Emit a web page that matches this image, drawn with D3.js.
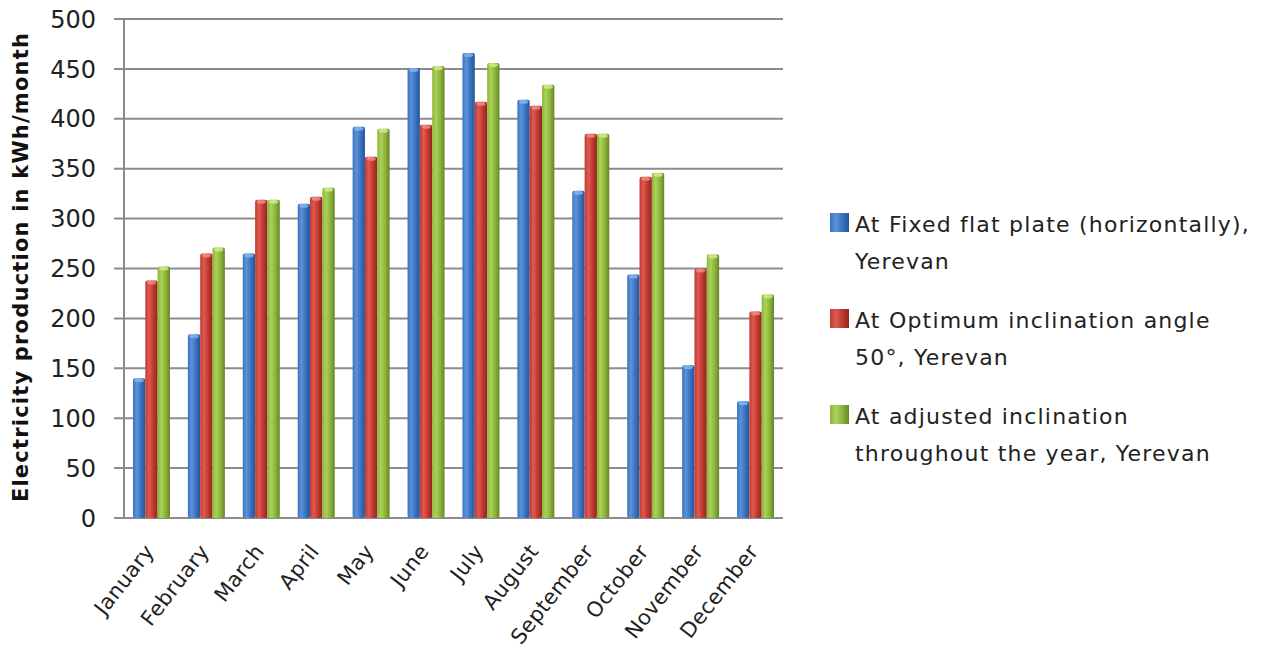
<!DOCTYPE html>
<html>
<head>
<meta charset="utf-8">
<script src="https://cdn.jsdelivr.net/npm/d3@7"></script>
<style>
  body { margin: 0; background: #fff; }
  svg { display: block; font-family: "DejaVu Sans", Verdana, sans-serif; }
</style>
</head>
<body>
<svg id="chart" width="1269" height="658"></svg>
<script>
// data
const months = ["January", "February", "March", "April", "May", "June", "July",
  "August", "September", "October", "November", "December"];
const fixedFlat = [140, 184, 265, 315, 392, 451, 466, 419, 328, 244, 153, 117];
const optimum50 = [238, 265, 319, 322, 362, 394, 417, 413, 385, 342, 250, 207];
const adjusted  = [252, 271, 319, 331, 390, 453, 456, 434, 385, 346, 264, 224];
const seriesNames = [
  ["At Fixed flat plate (horizontally),", "Yerevan"],
  ["At Optimum inclination angle", "50°, Yerevan"],
  ["At adjusted inclination", "throughout the year, Yerevan"]
];
const yTicks = [0, 50, 100, 150, 200, 250, 300, 350, 400, 450, 500];
const colors = [
  { light: "#5b93d8", mid: "#3a72c0", dark: "#245596", cap: "#8ab8ee" },
  { light: "#de5a52", mid: "#c0392f", dark: "#8e2620", cap: "#f08f88" },
  { light: "#aad158", mid: "#8db43a", dark: "#65852a", cap: "#d2ec8c" }
];

const svg = d3.select("#chart");
const mLeft = 124, mRight = 783, mTop = 19, mBottom = 518;

const x = d3.scaleBand().domain(months).range([mLeft, mRight]).padding(0);
const y = d3.scaleLinear().domain([0, 500]).range([mBottom, mTop]);
const sub = d3.scaleBand().domain([0, 1, 2]).range([0, 37]);

// gradients for the cylinder look
const defs = svg.append("defs");
colors.forEach((c, i) => {
  const g = defs.append("linearGradient").attr("id", "g" + i)
    .attr("x1", "0%").attr("x2", "100%");
  g.append("stop").attr("offset", "0%").attr("stop-color", c.mid);
  g.append("stop").attr("offset", "30%").attr("stop-color", c.light);
  g.append("stop").attr("offset", "65%").attr("stop-color", c.mid);
  g.append("stop").attr("offset", "100%").attr("stop-color", c.dark);
});

// gridlines + y ticks
svg.append("g").selectAll("line").data(yTicks).join("line")
  .attr("x1", mLeft - 10).attr("x2", mRight)
  .attr("y1", d => y(d)).attr("y2", d => y(d))
  .attr("stroke", "#8c8c8c").attr("stroke-width", 2);

svg.append("line")
  .attr("x1", mLeft).attr("x2", mLeft).attr("y1", mTop).attr("y2", mBottom)
  .attr("stroke", "#8c8c8c").attr("stroke-width", 2);

svg.append("g").selectAll("text").data(yTicks).join("text")
  .attr("x", 96).attr("y", d => y(d)).attr("dy", "0.36em")
  .attr("text-anchor", "end").attr("font-size", 24).attr("fill", "#222")
  .text(d => d);

svg.append("text")
  .attr("transform", `translate(28, 267) rotate(-90)`)
  .attr("text-anchor", "middle").attr("font-size", 21).attr("font-weight", "bold")
  .attr("letter-spacing", 1.2).attr("fill", "#111")
  .text("Electricity production in kWh/month");

// bars
const allSeries = [fixedFlat, optimum50, adjusted];
const off = (x.bandwidth() - 37) / 2;
allSeries.forEach((vals, s) => {
  const g = svg.append("g");
  g.selectAll("rect").data(vals).join("rect")
    .attr("x", (d, i) => x(months[i]) + off + sub(s))
    .attr("y", d => y(d))
    .attr("width", sub.bandwidth())
    .attr("height", d => mBottom - y(d))
    .attr("rx", 2)
    .attr("fill", `url(#g${s})`);
  g.selectAll("ellipse").data(vals).join("ellipse")
    .attr("cx", (d, i) => x(months[i]) + off + sub(s) + sub.bandwidth() / 2)
    .attr("cy", d => y(d) + 2)
    .attr("rx", sub.bandwidth() / 2 - 1.5).attr("ry", 2)
    .attr("fill", colors[s].cap).attr("opacity", 0.8);
});

// x labels
svg.append("g").selectAll("text").data(months).join("text")
  .attr("transform", d => `translate(${x(d) + x.bandwidth() / 2 - 2}, 547) rotate(-52)`)
  .attr("text-anchor", "end").attr("dy", "0.35em")
  .attr("font-size", 21).attr("letter-spacing", 0.4).attr("fill", "#222")
  .text(d => d);

// legend
const leg = svg.append("g");
seriesNames.forEach((lines, i) => {
  const ly = 213 + i * 96;
  leg.append("rect").attr("x", 830).attr("y", ly).attr("width", 19).attr("height", 19)
    .attr("fill", `url(#g${i})`);
  lines.forEach((t, j) => {
    leg.append("text").attr("x", 855).attr("y", ly + 19 + j * 37)
      .attr("font-size", 22).attr("letter-spacing", 1.2).attr("fill", "#222").text(t);
  });
});
</script>
</body>
</html>
